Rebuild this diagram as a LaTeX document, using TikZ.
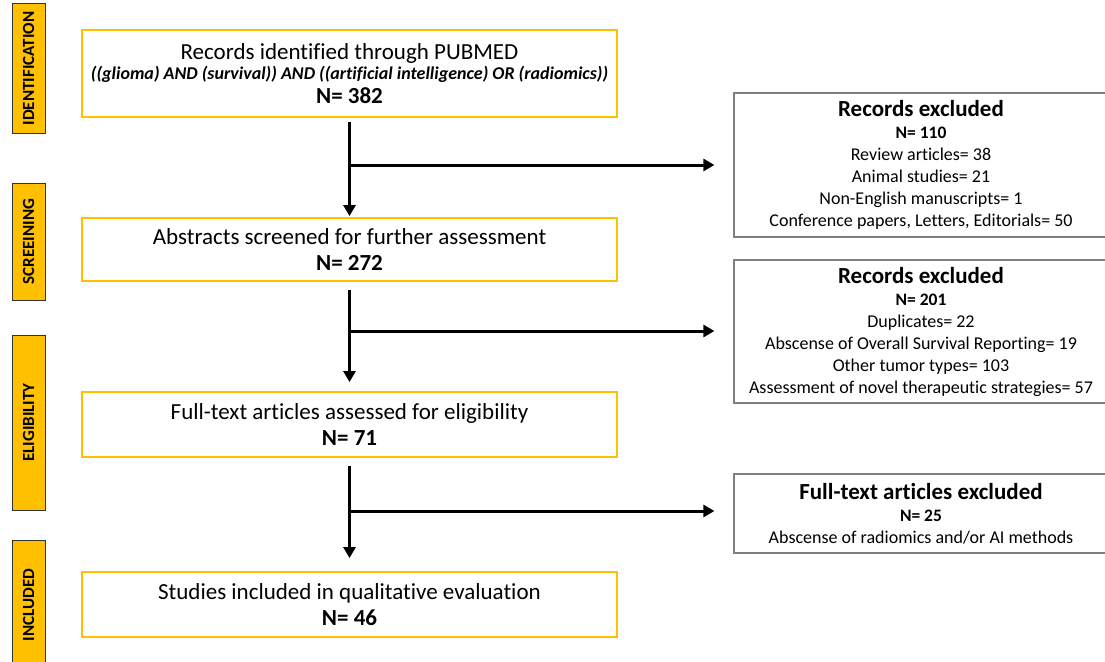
\documentclass[tikz,border=0pt]{standalone}
\usepackage{fontspec}
\setmainfont{Carlito}[Ligatures=NoCommon]
\usetikzlibrary{arrows.meta}
\definecolor{gold}{HTML}{FFC000}
\definecolor{boxgray}{HTML}{7F7F7F}
\begin{document}
\begin{tikzpicture}[x=1pt,y=-1pt,
  mainbox/.style={draw=gold, line width=1.8pt, minimum width=535pt, align=center, inner sep=0pt, font=\fontsize{23}{26}\selectfont},
  sidebox/.style={draw=boxgray, line width=1.2pt, minimum width=374pt, align=center, inner sep=0pt, font=\fontsize{18}{22}\selectfont},
  stagebox/.style={draw=black!80, fill=gold, line width=1pt, rotate=90, minimum height=33pt, inner sep=0pt, font=\fontsize{17}{20}\selectfont\bfseries},
  flow/.style={line width=3pt, -{Triangle[length=11pt,width=12pt]}}
]
\clip (0,0) rectangle (1105,661);

% stage labels
\node[stagebox, minimum width=129pt] (s1) at (28.5,68.5) {IDENTIFICATION};
\node[stagebox, minimum width=117pt] (s2) at (28.5,241.5) {SCREEINING};
\node[stagebox, minimum width=175pt] (s3) at (28.5,422.5) {ELIGIBILITY};
\node[stagebox, minimum width=130pt] (s4) at (28.5,605) {INCLUDED};

% main boxes
\node[mainbox, minimum height=87pt] (b1) at (349.5,73.5)
  {Records identified through PUBMED\\[-6pt]
   {\fontsize{18}{20}\selectfont\bfseries\itshape ((glioma) AND (survival)) AND ((artificial intelligence) OR (radiomics))}\\[-2pt]
   \textbf{N= 382}};
\node[mainbox, minimum height=63pt] (b2) at (349.5,249.5)
  {Abstracts screened for further assessment\\ \textbf{N= 272}};
\node[mainbox, minimum height=65pt] (b3) at (349.5,424.5)
  {Full-text articles assessed for eligibility\\ \textbf{N= 71}};
\node[mainbox, minimum height=65pt] (b4) at (349.5,604.5)
  {Studies included in qualitative evaluation\\ \textbf{N= 46}};

% side boxes
\node[sidebox, minimum height=144pt] (r1) at (921,165)
  {{\fontsize{23}{22}\selectfont\bfseries Records excluded}\\
   {\fontsize{17.5}{22}\selectfont\bfseries N= 110}\\
   Review articles= 38\\
   Animal studies= 21\\
   Non-English manuscripts= 1\\
   Conference papers, Letters, Editorials= 50};
\node[sidebox, minimum height=143pt] (r2) at (921,331.5)
  {{\fontsize{23}{22}\selectfont\bfseries Records excluded}\\
   {\fontsize{17.5}{22}\selectfont\bfseries N= 201}\\
   Duplicates= 22\\
   Abscense of Overall Survival Reporting= 19\\
   Other tumor types= 103\\
   Assessment of novel therapeutic strategies= 57};
\node[sidebox, minimum height=79pt] (r3) at (921,513.5)
  {{\fontsize{23}{22}\selectfont\bfseries Full-text articles excluded}\\
   {\fontsize{17.5}{22}\selectfont\bfseries N= 25}\\
   Abscense of radiomics and/or AI methods};

% junctions
\coordinate (j1) at (349.5,165);
\coordinate (j2) at (349.5,331);
\coordinate (j3) at (349.5,511);

% connectors
\draw[flow, shorten <=4pt, shorten >=1pt] (b1) -- (b2);
\draw[flow, shorten <=8pt, shorten >=9pt] (b2) -- (b3);
\draw[flow, shorten <=8pt, shorten >=13pt] (b3) -- (b4);
\draw[flow, shorten >=19pt] (j1) -- (j1 -| r1.west);
\draw[flow, shorten >=19pt] (j2) -- (j2 -| r2.west);
\draw[flow, shorten >=19pt] (j3) -- (j3 -| r3.west);
\end{tikzpicture}
\end{document}
